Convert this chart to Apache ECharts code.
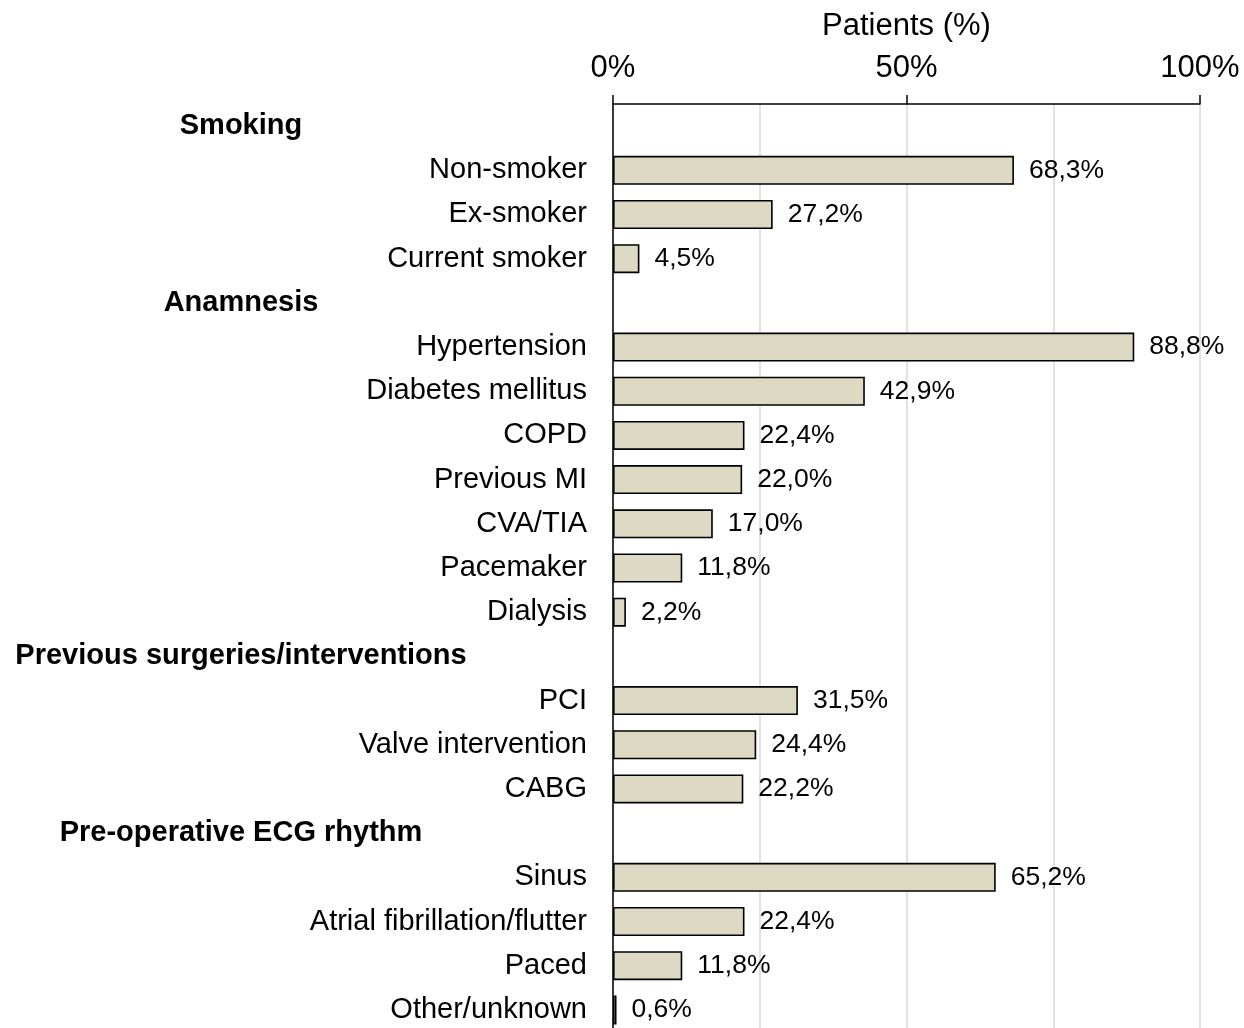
<!DOCTYPE html>
<html>
<head>
<meta charset="utf-8">
<script src="https://cdn.jsdelivr.net/npm/echarts@6/dist/echarts.min.js"></script>
<style>
  html, body { margin: 0; padding: 0; background: #fff; }
  #chart { width: 1244px; height: 1028px; }
</style>
</head>
<body>
<div id="chart"></div>
<script>
// rows from top to bottom; group headers have no value
const categories = [
  'Smoking', 'Non-smoker', 'Ex-smoker', 'Current smoker',
  'Anamnesis', 'Hypertension', 'Diabetes mellitus', 'COPD', 'Previous MI', 'CVA/TIA', 'Pacemaker', 'Dialysis',
  'Previous surgeries/interventions', 'PCI', 'Valve intervention', 'CABG',
  'Pre-operative ECG rhythm', 'Sinus', 'Atrial fibrillation/flutter', 'Paced', 'Other/unknown'
]
const headers = ['Smoking', 'Anamnesis', 'Previous surgeries/interventions', 'Pre-operative ECG rhythm']
const values = [
  null, 68.3, 27.2, 4.5,
  null, 88.8, 42.9, 22.4, 22.0, 17.0, 11.8, 2.2,
  null, 31.5, 24.4, 22.2,
  null, 65.2, 22.4, 11.8, 0.6
]
const xTicks = [0, 50, 100]

const font = '"Liberation Sans", Arial, sans-serif'
const chart = echarts.init(document.getElementById('chart'))

const option = {
  animation: false,
  textStyle: { fontFamily: font },
  grid: {
    left: 613,
    right: 44,
    top: 104,
    bottom: -4,
    containLabel: false,
    outerBoundsMode: 'none'
  },
  xAxis: {
    type: 'value',
    position: 'top',
    min: xTicks[0],
    max: xTicks[xTicks.length - 1],
    interval: xTicks[1] - xTicks[0],
    name: 'Patients (%)',
    nameLocation: 'middle',
    nameGap: 62,
    nameMoveOverlap: false,
    nameTextStyle: { fontSize: 31, color: '#000', fontFamily: font },
    axisLine: { show: true, lineStyle: { color: '#000', width: 1.5 } },
    axisTick: { show: true, length: 9, lineStyle: { color: '#000', width: 1.5 } },
    axisLabel: {
      fontSize: 31,
      color: '#000',
      margin: 20,
      formatter: v => v + '%'
    },
    splitLine: { show: true, lineStyle: { color: '#d9d9d9', width: 1.5 } },
    minorTick: { show: false, splitNumber: 2 },
    minorSplitLine: { show: true, lineStyle: { color: '#d9d9d9', width: 1.5 } }
  },
  yAxis: {
    type: 'category',
    inverse: true,
    data: categories,
    axisLine: { show: true, lineStyle: { color: '#000', width: 1.5 } },
    axisTick: { show: false },
    axisLabel: {
      fontSize: 29,
      color: '#000',
      margin: 26,
      interval: 0,
      formatter: v => headers.includes(v) ? '{h|' + v + '}' : v,
      rich: {
        h: {
          fontSize: 29,
          fontWeight: 'bold',
          color: '#000',
          width: 692,
          align: 'center',
          fontFamily: font
        }
      }
    }
  },
  series: [
    {
      type: 'bar',
      data: values.map(v => v === null ? '-' : v),
      barWidth: 29,
      itemStyle: {
        color: '#ddd9c3',
        borderColor: '#000',
        borderWidth: 1.6
      },
      label: {
        show: true,
        position: 'right',
        distance: 15,
        fontSize: 26.5,
        color: '#000',
        formatter: p => p.value === '-' ? '' : p.value.toFixed(1).replace('.', ',') + '%'
      }
    }
  ]
}

chart.setOption(option)
</script>
</body>
</html>
